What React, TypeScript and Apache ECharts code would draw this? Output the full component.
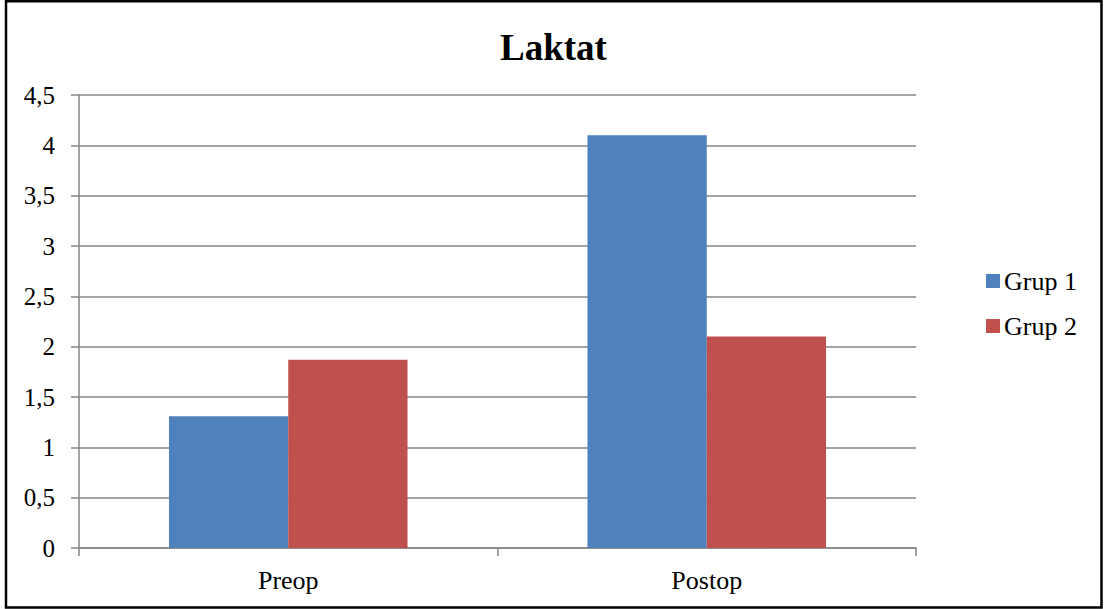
import React, { useEffect, useRef } from "react";
import * as echarts from "echarts";

const categories = ["Preop", "Postop"];
const grup1 = [1.31, 4.1];
const grup2 = [1.87, 2.1];
const seriesNames = ["Grup 1", "Grup 2"];
const title = "Laktat";

const FONT = "'Liberation Serif', 'Times New Roman', serif";

export default function App() {
  const ref = useRef<HTMLDivElement>(null);
  useEffect(() => {
    document.body.style.margin = "0";
    const chart = echarts.init(ref.current!, null, { renderer: "svg" });
    chart.setOption({
      animation: false,
      backgroundColor: "#ffffff",
      title: {
        text: title,
        left: "center",
        top: 24,
        textStyle: { fontFamily: FONT, fontSize: 37, fontWeight: "bold", color: "#000" },
      },
      legend: {
        orient: "vertical",
        left: 981,
        top: 263,
        itemWidth: 14,
        itemHeight: 14,
        itemGap: 19,
        icon: "rect",
        textStyle: { fontFamily: FONT, fontSize: 26, color: "#000", padding: [0, 0, 0, -1] },
        data: seriesNames,
      },
      grid: { left: 79, right: 191, top: 95, bottom: 61, containLabel: false },
      xAxis: {
        type: "category",
        data: categories,
        axisLine: { show: true, lineStyle: { color: "#868686", width: 1.5 } },
        axisTick: { show: true, length: 8, alignWithLabel: false, lineStyle: { color: "#868686", width: 1.5 } },
        axisLabel: { fontFamily: FONT, fontSize: 26, color: "#000", margin: 19 },
      },
      yAxis: {
        type: "value",
        min: 0,
        max: 4.5,
        interval: 0.5,
        axisLine: { show: true, lineStyle: { color: "#868686", width: 1.5 } },
        axisTick: { show: true, length: 8, lineStyle: { color: "#868686", width: 1.5 } },
        splitLine: { show: true, lineStyle: { color: "#868686", width: 1.5 } },
        axisLabel: {
          fontFamily: FONT,
          fontSize: 25,
          color: "#000",
          margin: 24,
          formatter: (v: number) => String(v).replace(".", ","),
        },
      },
      series: [
        {
          name: seriesNames[0],
          type: "bar",
          data: grup1,
          barGap: "0%",
          barCategoryGap: "43%",
          itemStyle: { color: "#4F81BD" },
        },
        {
          name: seriesNames[1],
          type: "bar",
          data: grup2,
          barGap: "0%",
          barCategoryGap: "43%",
          itemStyle: { color: "#C0504D" },
        },
      ],
      graphic: [
        {
          type: "rect",
          shape: { x: 6, y: 1.2, width: 1095.5, height: 606.3 },
          style: { fill: "none", stroke: "#000", lineWidth: 2.5 },
          silent: true,
        },
      ],
    });
    return () => chart.dispose();
  }, []);
  return <div ref={ref} style={{ width: 1107, height: 609 }} />;
}
